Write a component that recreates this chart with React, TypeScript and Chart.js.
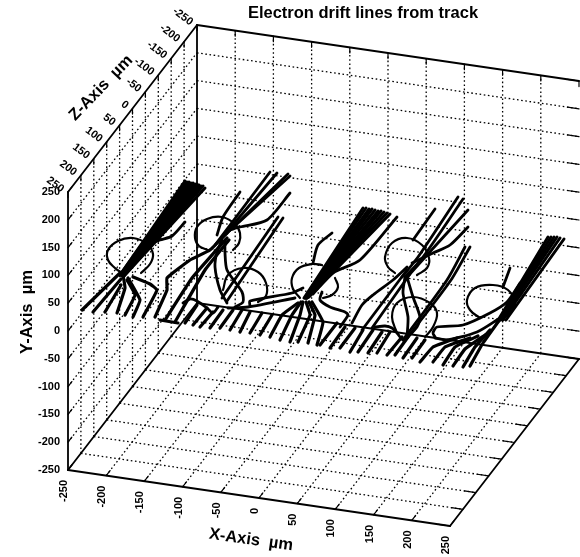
import React, { useEffect, useRef } from "react";
import { Chart, registerables } from "chart.js";

Chart.register(...registerables);

const WIDTH = 580;
const HEIGHT = 557;

const titleText = "Electron drift lines from track";
const axisNames = { x: "X-Axis  µm", y: "Y-Axis  µm", z: "Z-Axis  µm" };
const axisTicks = [-250, -200, -150, -100, -50, 0, 50, 100, 150, 200, 250];
const innerTicks = [-200, -150, -100, -50, 0, 50, 100, 150, 200];

// Drift lines, in the view plane of the chart (u, v pairs).
const fanA = [
  [82, 310, 120, 273],
  [93, 312, 121, 279],
  [105, 312, 121, 285],
  [117, 313, 125, 288, 123, 275],
  [125, 315, 135, 295, 127, 280],
  [133, 317, 140, 300, 128, 278],
  [143, 317, 157, 290, 150, 284, 133, 277],
  [155, 317, 167, 290, 167, 278, 190, 260, 210, 250, 227, 233],
  [165, 320, 192, 278, 227, 238],
  [175, 322, 205, 270, 229, 240],
  [160, 320, 178, 323],
];
const hatchB = [
  [185, 323, 197, 305],
  [193, 325, 207, 308],
  [200, 327, 213, 312],
  [210, 328, 223, 310],
  [220, 328, 233, 310],
  [230, 330, 242, 310],
  [240, 332, 250, 312],
  [250, 333, 262, 313],
  [260, 335, 272, 315],
  [270, 337, 282, 315, 298, 303],
  [280, 340, 292, 315, 301, 302],
  [290, 342, 300, 315, 303, 302],
  [298, 342, 310, 315, 306, 302],
  [308, 343, 315, 315, 309, 302],
  [317, 345, 323, 322, 312, 302],
];
const hatchC = [
  [320, 345, 337, 323],
  [330, 348, 345, 327],
  [340, 348, 355, 328],
  [350, 352, 363, 330],
  [358, 352, 373, 330],
  [368, 353, 382, 332],
  [377, 353, 390, 332],
  [387, 355, 402, 337],
  [395, 355, 408, 337],
  [403, 358, 417, 338],
  [412, 358, 425, 340],
];
const hatchE = [
  [420, 362, 433, 347, 457, 338],
  [433, 362, 445, 347, 470, 338],
  [443, 365, 455, 347, 478, 336],
  [453, 366, 465, 349, 485, 335],
  [463, 367, 475, 347, 490, 330],
  [470, 366, 483, 343, 498, 322],
];
const coreA = [
  [120, 275, 185, 181],
  [120, 275, 187, 182],
  [121, 275, 189, 182],
  [121, 275, 191, 183],
  [122, 275, 193, 183],
  [122, 275, 195, 184],
  [122, 276, 197, 184],
  [123, 276, 199, 185],
  [123, 276, 201, 186],
  [124, 276, 203, 186],
  [124, 276, 205, 188],
];
const coreC = [
  [304, 298, 363, 208],
  [305, 298, 366, 208],
  [305, 298, 369, 209],
  [306, 298, 372, 209],
  [306, 298, 375, 210],
  [307, 298, 378, 211],
  [307, 298, 381, 211],
  [308, 297, 384, 212],
  [308, 297, 387, 213],
  [309, 297, 390, 214],
];
const coreE = [
  [497, 322, 548, 237],
  [498, 322, 551, 237],
  [499, 321, 554, 237],
  [501, 320, 557, 237],
  [503, 320, 560, 238],
  [506, 320, 564, 239],
];
const bundleA = [
  [130, 265, 143, 247, 160, 240, 172, 236, 185, 222],
];
const bundleB = [
  [217, 235, 223, 217, 240, 192],
  [215, 245, 270, 172],
  [220, 240, 277, 173],
  [225, 235, 288, 174],
  [227, 233, 290, 176],
  [230, 230, 240, 227, 267, 220, 290, 193],
  [222, 298, 278, 217],
  [227, 301, 283, 218],
  [222, 240, 217, 252, 215, 267, 220, 290, 227, 303],
  [225, 240, 225, 253, 227, 270, 242, 292, 243, 302, 235, 307],
  [183, 303, 190, 299, 197, 301, 207, 308, 213, 313, 218, 307],
  [228, 308, 248, 307, 295, 298],
  [250, 306, 250, 301, 292, 293, 303, 288],
];
const bundleC = [
  [313, 294, 333, 273, 360, 260, 397, 217],
  [313, 263, 318, 245, 332, 233],
  [322, 292, 320, 300, 330, 307, 345, 312, 348, 315, 340, 327],
  [352, 323, 362, 305, 373, 295, 393, 280, 407, 267],
  [362, 330, 407, 270],
  [372, 328, 410, 274],
  [375, 327, 385, 326, 392, 328, 397, 333, 403, 340, 408, 336],
];
const bundleD = [
  [413, 240, 435, 209],
  [402, 277, 418, 257, 458, 197],
  [405, 277, 423, 257, 463, 199],
  [409, 275, 427, 255, 468, 210],
  [412, 263, 433, 253, 450, 245, 468, 227],
  [403, 340, 447, 280, 465, 247],
  [408, 337, 451, 280, 470, 247],
  [405, 277, 403, 293, 408, 317, 407, 337],
  [407, 277, 413, 297, 420, 317, 417, 327, 405, 340],
];
const bundleE = [
  [503, 287, 510, 268],
  [435, 337, 433, 333, 437, 327, 463, 325, 490, 313, 507, 302, 520, 283],
  [435, 338, 447, 340, 477, 332, 500, 318],
];
const rings = [
  [141, 273, 150, 264, 153, 254, 147, 244, 133, 238, 118, 241, 108, 250, 108, 260, 115, 268, 122, 273],
  [233, 250, 239, 243, 240, 233, 235, 224, 222, 217, 207, 219, 197, 227, 195, 238, 199, 246, 208, 250],
  [223, 290, 228, 275, 243, 268, 258, 272, 266, 283, 266, 296, 258, 302],
  [300, 298, 293, 289, 292, 278, 299, 268, 312, 264, 322, 265],
  [335, 278, 338, 287, 332, 295, 323, 298],
  [417, 275, 427, 268, 429, 258, 422, 245, 407, 238, 392, 243, 385, 257, 388, 267, 395, 273],
  [397, 333, 392, 317, 397, 303, 413, 297, 430, 303, 437, 313, 433, 327, 425, 337],
  [480, 318, 470, 310, 467, 300, 475, 288, 493, 285, 508, 290, 515, 303, 510, 313, 500, 320],
];

// Parallel view of the box: µm in x, y, z to the chart's view plane.
function project(x: number, y: number, z: number) {
  const a = x + 250;
  const b = 250 - z;
  const c = y + 250;
  return { x: 68 + a * 0.764 + b * 0.258, y: 470 + a * 0.112 - c * 0.556 - b * 0.334 };
}

type Pt = { x: number; y: number };
const toPts = (flat: number[]): Pt[] => {
  const out: Pt[] = [];
  for (let i = 0; i < flat.length; i += 2) out.push({ x: flat[i], y: flat[i + 1] });
  return out;
};

function buildDatasets() {
  const sets: any[] = [];
  const solid = (data: Pt[], width: number, tension = 0) =>
    sets.push({ data, showLine: true, pointRadius: 0, borderColor: "#000", borderWidth: width, tension, fill: false, borderCapStyle: "round", borderJoinStyle: "round" });
  const dotted = (data: Pt[]) =>
    sets.push({ data, showLine: true, pointRadius: 0, borderColor: "#000", borderWidth: 1.3, borderDash: [1.6, 2.6], fill: false });

  // Grid on the three walls
  innerTicks.forEach((t) => {
    dotted([project(t, -250, -250), project(t, 250, -250)]);
    dotted([project(-250, t, -250), project(250, t, -250)]);
    dotted([project(-250, -250, t), project(-250, 250, t)]);
    dotted([project(-250, t, 250), project(-250, t, -250)]);
    dotted([project(t, -250, 250), project(t, -250, -250)]);
    dotted([project(-250, -250, t), project(250, -250, t)]);
  });

  // Box edges
  const edges: [number, number, number, number, number, number][] = [
    [-250, 250, 250, -250, 250, -250],
    [-250, 250, -250, 250, 250, -250],
    [-250, 250, -250, -250, -250, -250],
    [-250, 250, 250, -250, -250, 250],
    [-250, -250, 250, 250, -250, 250],
    [250, -250, 250, 250, -250, -250],
    [-250, -250, 250, -250, -250, -250],
    [-250, -250, -250, 250, -250, -250],
  ];
  edges.forEach((e) => solid([project(e[0], e[1], e[2]), project(e[3], e[4], e[5])], 1.8));

  // Tick marks
  axisTicks.forEach((t) => {
    solid([project(t, -250, 250), project(t, -250, 235)], 1.2);
    solid([project(t, 250, -250), project(t, 240, -250)], 1.2);
    solid([project(250, -250, t), project(235, -250, t)], 1.2);
    solid([project(-250, 250, t), project(-250, 240, t)], 1.2);
    solid([project(-250, t, 250), project(-250, t, 235)], 1.2);
    solid([project(250, t, -250), project(235, t, -250)], 1.2);
  });

  [fanA, hatchB, hatchC, hatchE].forEach((g) => g.forEach((p) => solid(toPts(p), 3.2, 0.1)));
  [coreA, coreC, coreE].forEach((g) => g.forEach((p) => solid(toPts(p), 3)));
  [bundleA, bundleB, bundleC, bundleD, bundleE].forEach((g) => g.forEach((p) => solid(toPts(p), 2.8, 0.25)));
  rings.forEach((p) => solid(toPts(p), 2.2, 0.4));
  return sets;
}

const labelsPlugin = {
  id: "boxLabels",
  afterDraw(chart: any) {
    const ctx = chart.ctx as CanvasRenderingContext2D;
    const text = (s: string, x: number, y: number, font: string, rot: number, align: CanvasTextAlign) => {
      ctx.save();
      ctx.translate(x, y);
      ctx.rotate((rot * Math.PI) / 180);
      ctx.font = font;
      ctx.textAlign = align;
      ctx.textBaseline = "middle";
      ctx.fillStyle = "#000";
      ctx.fillText(s, 0, 0);
      ctx.restore();
    };
    const tickFont = "bold 11px 'Liberation Sans'";
    axisTicks.forEach((t) => {
      const py = project(-250, t, 250);
      text(String(t), py.x - 8, py.y, tickFont, 0, "right");
      const px = project(t, -250, 250);
      text(String(t), px.x - 4, px.y + 10, tickFont, -90, "right");
      const pz = project(-250, 250, t);
      text(String(t), pz.x - 5.4, pz.y - 1.8, tickFont, 37, "right");
    });
    text(titleText, 363, 13, "bold 16.5px 'Liberation Sans'", 0, "center");
    const nameFont = "bold 16.5px 'Liberation Sans'";
    text(axisNames.y, 27, 312, nameFont, -90, "center");
    text(axisNames.x, 251, 540, nameFont, 8, "center");
    text(axisNames.z, 101, 88, nameFont, -46, "center");
  },
};

export default function App() {
  const ref = useRef<HTMLCanvasElement>(null);
  useEffect(() => {
    document.body.style.margin = "0";
    document.body.style.background = "#fff";
    const chart = new Chart(ref.current!, {
      type: "scatter",
      data: { datasets: buildDatasets() },
      plugins: [labelsPlugin],
      options: {
        animation: false,
        responsive: false,
        layout: { padding: 0 },
        plugins: { legend: { display: false }, tooltip: { enabled: false } },
        scales: {
          x: { type: "linear", min: 0, max: WIDTH, display: false },
          y: { type: "linear", min: 0, max: HEIGHT, reverse: true, display: false },
        },
      },
    } as any);
    return () => chart.destroy();
  }, []);
  return <canvas ref={ref} width={WIDTH} height={HEIGHT} style={{ display: "block" }} />;
}
